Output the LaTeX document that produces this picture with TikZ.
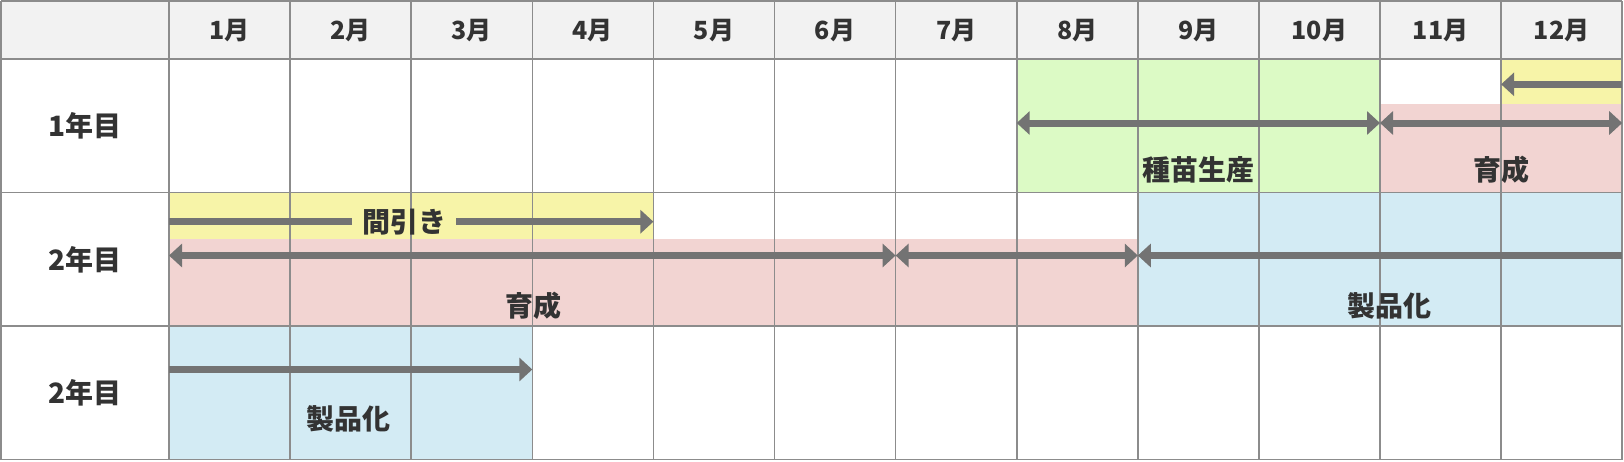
\documentclass[tikz,border=0pt]{standalone}
\usepackage{fontspec}
\setmainfont{Noto Sans CJK JP}
\usetikzlibrary{arrows.meta}
\definecolor{hdrc}{HTML}{F2F2F2}
\definecolor{gridc}{HTML}{8C8C8C}
\definecolor{arrc}{HTML}{737373}
\definecolor{txt}{HTML}{333333}
\definecolor{greenc}{HTML}{DCFAC5}
\definecolor{yellowc}{HTML}{F7F4A8}
\definecolor{pinkc}{HTML}{F2D4D2}
\definecolor{bluec}{HTML}{D3EBF4}
\begin{document}
\begin{tikzpicture}[x=1pt,y=-1pt,
  lbl/.style={font=\bfseries\fontsize{28}{28}\selectfont, text=txt, inner sep=0pt},
  hdr/.style={font=\bfseries\fontsize{25}{25}\selectfont, text=txt, inner sep=0pt},
  bar/.style={draw=arrc, line width=7pt},
  arr/.style={bar, -{Triangle[length=13pt,width=23pt]}},
  darr/.style={bar, {Triangle[length=13pt,width=23pt]}-{Triangle[length=13pt,width=23pt]}},
  gridline/.style={draw=gridc, line width=1.6pt}
]
\useasboundingbox (0,0) rectangle (1624,461);
\def\cw{121.1}
% column boundaries c0..c12
\foreach \k in {0,...,12}{
  \pgfmathsetmacro{\xx}{169+\cw*\k}
  \coordinate (c\k) at (\xx,0);
}
\def\rA{1}\def\rB{59}\def\rC{192.6}\def\rD{326}\def\rE{459.5}
% fills
\fill[hdrc] (1,\rA) rectangle (c12|-0,\rB);
\fill[greenc] (c7|-0,\rB) rectangle (c10|-0,\rC);
\fill[yellowc] (c11|-0,\rB) rectangle (c12|-0,103.5);
\fill[pinkc] (c10|-0,103.5) rectangle (c12|-0,\rC);
\fill[yellowc] (c0|-0,\rC) rectangle (c4|-0,238.5);
\fill[pinkc] (c0|-0,238.5) rectangle (c8|-0,\rD);
\fill[bluec] (c8|-0,\rC) rectangle (c12|-0,\rD);
\fill[bluec] (c0|-0,\rD) rectangle (c3|-0,\rE);
% grid
\foreach \k in {0,...,12}{
  \draw[gridline] (c\k|-0,\rA) -- (c\k|-0,\rE);
}
\draw[gridline] (1,\rA) -- (1,\rE);
\foreach \r in {\rA,\rB,\rC,\rD,\rE}{
  \draw[gridline] (1,\r) -- (c12|-0,\r);
}
% header labels
\foreach \m [count=\i from 0] in {1,...,12}{
  \pgfmathsetmacro{\xx}{169+\cw*(\i+0.5)}
  \node[hdr] (h\m) at (\xx,31) {\m 月};
}
\node[lbl] (y1) at (85,126) {1年目};
\node[lbl] (y2) at (85,259.5) {2年目};
\node[lbl] (y3) at (85,393) {2年目};
% row 1 arrows
\coordinate (a1s) at (c12|-0,84.3);
\coordinate (a1e) at (c11|-0,84.3);
\draw[arr] (a1s) -- (a1e);
\coordinate (b1a) at (c7|-0,123);
\coordinate (b1b) at (c10|-0,123);
\coordinate (b1c) at (c12|-0,123);
\draw[darr] (b1a) -- (b1b);
\draw[darr] (b1b) -- (b1c);
\node[lbl] (t1) at (1198.5,170) {種苗生産};
\node[lbl] (t2) at (1501.5,170) {育成};
% row 2 arrows
\node[lbl, inner xsep=10pt] (mb) at (404,221.7) {間引き};
\coordinate (m1) at (c0|-0,221.7);
\coordinate (m2) at (c4|-0,221.7);
\draw[bar] (m1) -- (mb.west);
\draw[arr] (mb.east) -- (m2);
\coordinate (g1) at (c0|-0,255.5);
\coordinate (g2) at (c6|-0,255.5);
\coordinate (g3) at (c8|-0,255.5);
\coordinate (g4) at (c12|-0,255.5);
\draw[darr] (g1) -- (g2);
\draw[darr] (g2) -- (g3);
\draw[arr] (g4) -- (g3);
\node[lbl] (t3) at (533,306) {育成};
\node[lbl] (t4) at (1389,306) {製品化};
% row 3
\coordinate (p1) at (c0|-0,369.5);
\coordinate (p2) at (c3|-0,369.5);
\draw[arr] (p1) -- (p2);
\node[lbl] (t5) at (348,419) {製品化};
\end{tikzpicture}
\end{document}
